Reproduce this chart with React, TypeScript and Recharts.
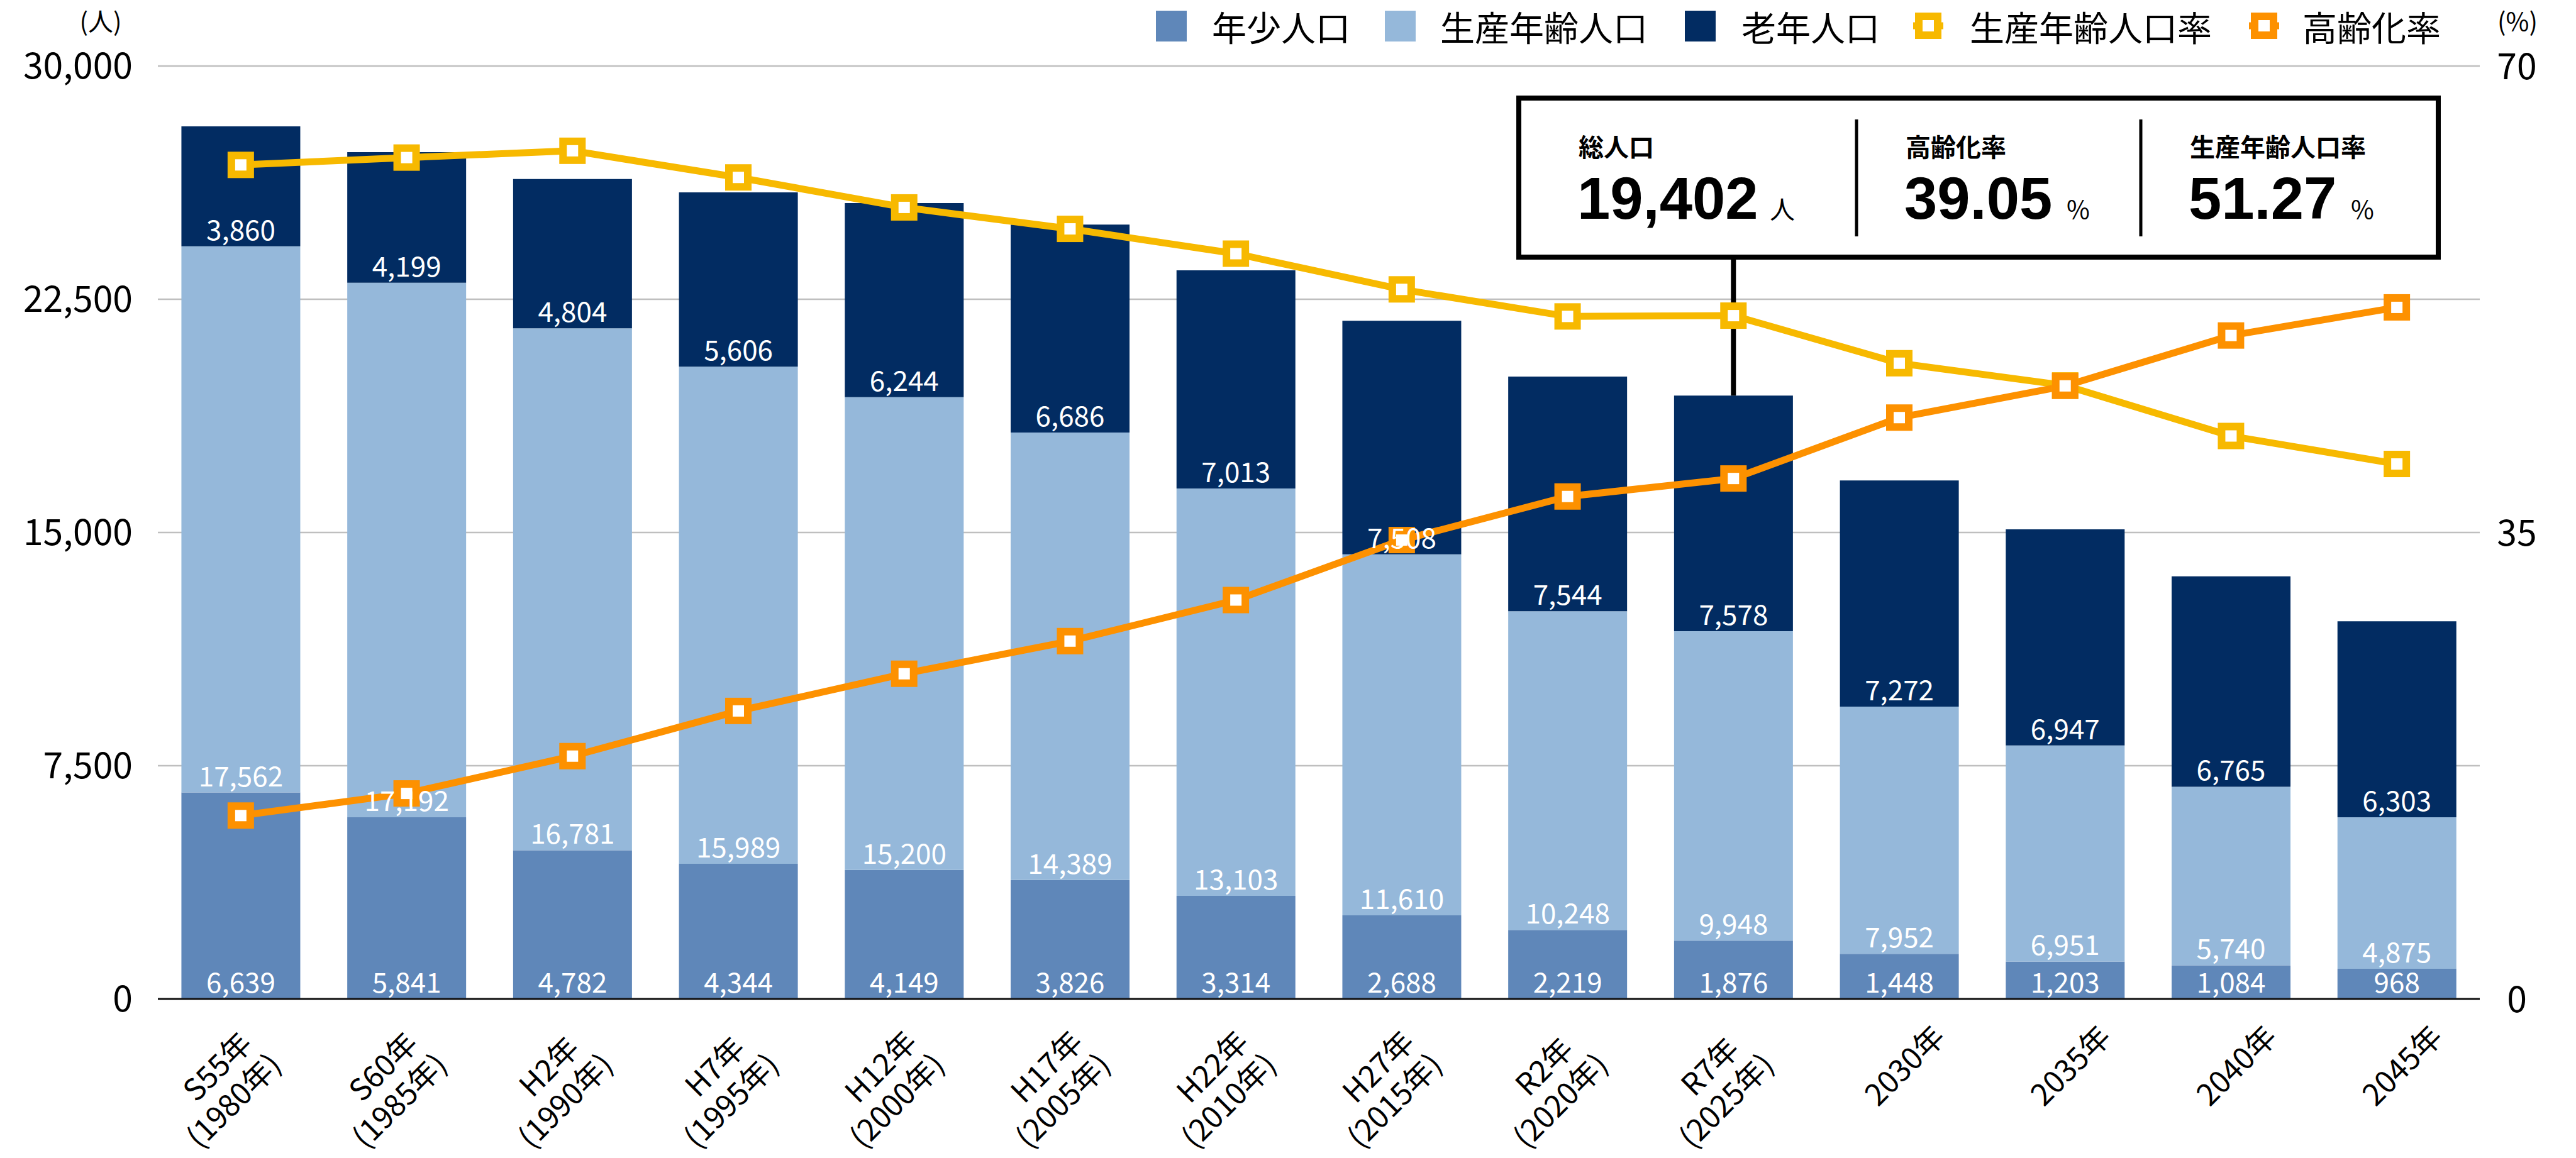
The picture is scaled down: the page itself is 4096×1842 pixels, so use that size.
import React from 'react';
import { ComposedChart, Bar, Line, XAxis, YAxis, CartesianGrid, LabelList, ReferenceLine } from 'recharts';

const categories = [
  'S55年\n(1980年)', 'S60年\n(1985年)', 'H2年\n(1990年)', 'H7年\n(1995年)', 'H12年\n(2000年)',
  'H17年\n(2005年)', 'H22年\n(2010年)', 'H27年\n(2015年)', 'R2年\n(2020年)', 'R7年\n(2025年)',
  '2030年', '2035年', '2040年', '2045年',
];
const youth = [6639, 5841, 4782, 4344, 4149, 3826, 3314, 2688, 2219, 1876, 1448, 1203, 1084, 968];
const working = [17562, 17192, 16781, 15989, 15200, 14389, 13103, 11610, 10248, 9948, 7952, 6951, 5740, 4875];
const elderly = [3860, 4199, 4804, 5606, 6244, 6686, 7013, 7508, 7544, 7578, 7272, 6947, 6765, 6303];
const workingRate = [62.58, 63.13, 63.64, 61.64, 59.39, 57.78, 55.92, 53.24, 51.21, 51.27, 47.7, 46.03, 42.24, 40.14];
const agingRate = [13.76, 15.42, 18.22, 21.61, 24.4, 26.85, 29.93, 34.43, 37.7, 39.05, 43.62, 46.0, 49.78, 51.89];

const leftTicks = [0, 7500, 15000, 22500, 30000];
const rightTicks = [0, 35, 70];

const highlightIndex = 9;
const totalNow = '19,402';
const agingNow = '39.05';
const workingNow = '51.27';

const FONT = '"Noto Sans CJK JP", "Noto Sans", sans-serif';
const NUM_FONT = '"Liberation Sans", Arial, sans-serif';
const C_YOUTH = '#5f87b9';
const C_WORK = '#95b8da';
const C_OLD = '#022c62';
const C_YELLOW = '#f7b900';
const C_ORANGE = '#fd9100';

const data = categories.map((name, i) => ({
  name,
  youth: youth[i],
  working: working[i],
  elderly: elderly[i],
  workingRate: workingRate[i],
  agingRate: agingRate[i],
}));

const fmt = (v: any) => Number(v).toLocaleString('en-US');

const SquareDot = (color: string) => (props: any) => {
  const { cx, cy, index } = props;
  if (cx == null || cy == null) return <g key={index} />;
  return (
    <rect key={index} x={cx - 15} y={cy - 15} width={30} height={30} fill="#fff" stroke={color} strokeWidth={12} />
  );
};

// rotated category labels, one or two lines
const XTick = (props: any) => {
  const { x, y, payload } = props;
  const lines = String(payload.value).split('\n');
  const spots = lines.length === 1 ? [{ dx: 21, dy: 118 }] : [{ dx: -25, dy: 120 }, { dx: 1, dy: 174 }];
  return (
    <g>
      {lines.map((line, i) => {
        const tx = x + spots[i].dx;
        const ty = y + spots[i].dy;
        return (
          <text
            key={i}
            x={tx}
            y={ty}
            textAnchor="middle"
            transform={`rotate(-45 ${tx} ${ty})`}
            fontSize={48}
            fill="#000"
            fontFamily={FONT}
          >
            {line}
          </text>
        );
      })}
    </g>
  );
};

const RightTick = (props: any) => {
  const { x, y, payload } = props;
  return (
    <text x={x + 59} y={y} dy="0.36em" textAnchor="middle" fontSize={57} fill="#000" fontFamily={FONT}>
      {payload.value}
    </text>
  );
};

const App: React.FC = () => {
  const labelStyle = { fill: '#fff', fontSize: 44, fontFamily: FONT };
  return (
    <div style={{ position: 'absolute', left: 0, top: 0, width: 4096, height: 1842, background: '#fff', fontFamily: FONT }}>
      <ComposedChart width={4096} height={1842} data={data} margin={{ top: 105, right: 0, bottom: 0, left: 0 }} barCategoryGap="14.2%">
        <CartesianGrid yAxisId="left" vertical={false} stroke="#bfbfbf" strokeWidth={2.5} />
        <XAxis
          dataKey="name"
          interval={0}
          height={253}
          tickSize={0}
          tickMargin={0}
          axisLine={{ stroke: '#111', strokeWidth: 3 }}
          tickLine={false}
          tick={<XTick />}
        />
        <YAxis
          yAxisId="left"
          width={251}
          domain={[0, 30000]}
          ticks={leftTicks}
          tickFormatter={fmt}
          axisLine={false}
          tickLine={false}
          tickSize={0}
          tickMargin={40}
          tick={{ fontSize: 57, fill: '#000', fontFamily: FONT }}
        />
        <YAxis
          yAxisId="right"
          orientation="right"
          width={153}
          domain={[0, 70]}
          ticks={rightTicks}
          axisLine={false}
          tickLine={false}
          tickSize={0}
          tickMargin={0}
          tick={<RightTick />}
        />
        <Bar yAxisId="left" dataKey="youth" stackId="a" fill={C_YOUTH} isAnimationActive={false}>
          <LabelList dataKey="youth" position="insideBottom" offset={10} formatter={fmt} style={labelStyle} />
        </Bar>
        <Bar yAxisId="left" dataKey="working" stackId="a" fill={C_WORK} isAnimationActive={false}>
          <LabelList dataKey="working" position="insideBottom" offset={10} formatter={fmt} style={labelStyle} />
        </Bar>
        <Bar yAxisId="left" dataKey="elderly" stackId="a" fill={C_OLD} isAnimationActive={false}>
          <LabelList dataKey="elderly" position="insideBottom" offset={10} formatter={fmt} style={labelStyle} />
        </Bar>
        <ReferenceLine
          yAxisId="left"
          zIndex={350}
          segment={[
            { x: categories[highlightIndex], y: youth[highlightIndex] + working[highlightIndex] + elderly[highlightIndex] },
            { x: categories[highlightIndex], y: 28000 },
          ]}
          stroke="#000"
          strokeWidth={8}
        />
        <Line
          yAxisId="right"
          type="linear"
          dataKey="workingRate"
          stroke={C_YELLOW}
          strokeWidth={11}
          dot={SquareDot(C_YELLOW)}
          activeDot={false}
          isAnimationActive={false}
        />
        <Line
          yAxisId="right"
          type="linear"
          dataKey="agingRate"
          stroke={C_ORANGE}
          strokeWidth={11}
          dot={SquareDot(C_ORANGE)}
          activeDot={false}
          isAnimationActive={false}
        />
      </ComposedChart>

      <svg
        width={4096}
        height={1842}
        style={{ position: 'absolute', left: 0, top: 0, pointerEvents: 'none' }}
        fontFamily={FONT}
      >
        {/* axis unit labels */}
        <text x={160} y={49} textAnchor="middle" fontSize={40} fill="#000">(人)</text>
        <text x={4003} y={49} textAnchor="middle" fontSize={40} fill="#000">(%)</text>

        {/* legend */}
        <rect x={1838} y={17} width={49} height={49} fill={C_YOUTH} />
        <text x={1927} y={65} fontSize={55} fill="#000">年少人口</text>
        <rect x={2202} y={17} width={49} height={49} fill={C_WORK} />
        <text x={2290} y={65} fontSize={55} fill="#000">生産年齢人口</text>
        <rect x={2679} y={17} width={49} height={49} fill={C_OLD} />
        <text x={2769} y={65} fontSize={55} fill="#000">老年人口</text>
        <line x1={3042} y1={41} x2={3090} y2={41} stroke={C_YELLOW} strokeWidth={11} />
        <rect x={3051} y={26} width={30} height={30} fill="#fff" stroke={C_YELLOW} strokeWidth={12} />
        <text x={3132} y={65} fontSize={55} fill="#000">生産年齢人口率</text>
        <line x1={3576} y1={41} x2={3624} y2={41} stroke={C_ORANGE} strokeWidth={11} />
        <rect x={3585} y={26} width={30} height={30} fill="#fff" stroke={C_ORANGE} strokeWidth={12} />
        <text x={3661} y={65} fontSize={55} fill="#000">高齢化率</text>

        {/* info box */}
        <rect x={2415} y={156} width={1462} height={253} fill="#fff" stroke="#000" strokeWidth={8} />
        <line x1={2952} y1={190} x2={2952} y2={376} stroke="#000" strokeWidth={5} />
        <line x1={3404} y1={190} x2={3404} y2={376} stroke="#000" strokeWidth={5} />

        <text x={2510} y={249} fontSize={40} fontWeight={700} fill="#000">総人口</text>
        <text x={2508} y={348} fontSize={94} fontWeight={700} fill="#000" fontFamily={NUM_FONT}>{totalNow}</text>
        <text x={2814} y={348} fontSize={40} fill="#000">人</text>

        <text x={3030} y={249} fontSize={40} fontWeight={700} fill="#000">高齢化率</text>
        <text x={3028} y={348} fontSize={94} fontWeight={700} fill="#000" fontFamily={NUM_FONT}>{agingNow}</text>
        <text x={3286} y={348} fontSize={40} fill="#000">%</text>

        <text x={3482} y={249} fontSize={40} fontWeight={700} fill="#000">生産年齢人口率</text>
        <text x={3480} y={348} fontSize={94} fontWeight={700} fill="#000" fontFamily={NUM_FONT}>{workingNow}</text>
        <text x={3738} y={348} fontSize={40} fill="#000">%</text>
      </svg>
    </div>
  );
};

export default App;
